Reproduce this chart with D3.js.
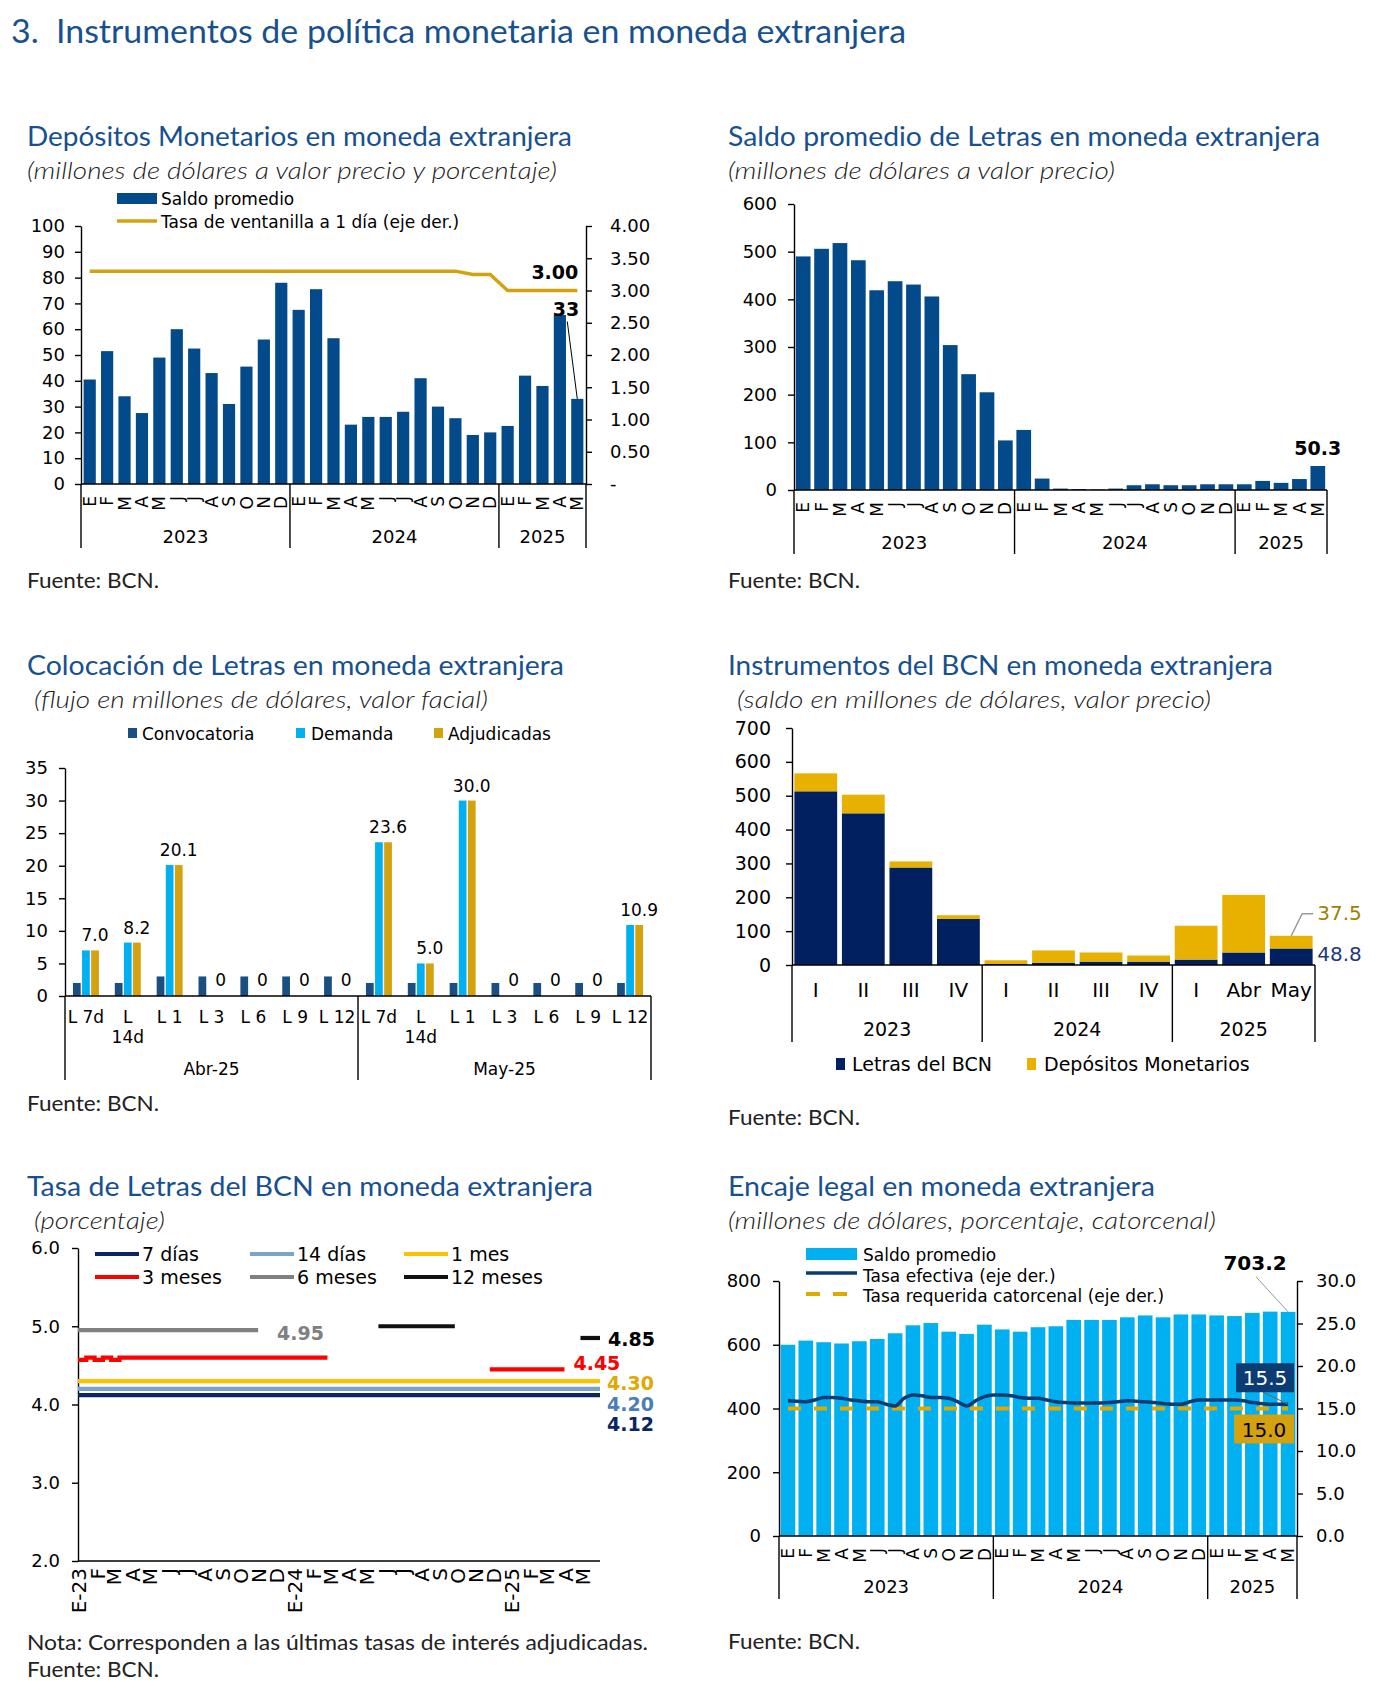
<!DOCTYPE html>
<html><head><meta charset="utf-8">
<script src="https://cdn.jsdelivr.net/npm/d3@7"></script>
<style>body{margin:0;background:#fff}svg{display:block}</style>
</head><body>
<script>
// ---------------- DATA ----------------
const meses = ["E","F","M","A","M","J","J","A","S","O","N","D","E","F","M","A","M","J","J","A","S","O","N","D","E","F","M","A","M"];
const anios = ["2023","2024","2025"];
const aniosMeses = [12,12,5];

// Depósitos Monetarios
const depSaldo = [40.5,51.5,34,27.5,49,60,52.5,43,31,45.5,56,78,67.5,75.5,56.5,23,26,26,28,41,30,25.5,19,20,22.5,42,38,65.5,33];
const depTasa = [3.3,3.3,3.3,3.3,3.3,3.3,3.3,3.3,3.3,3.3,3.3,3.3,3.3,3.3,3.3,3.3,3.3,3.3,3.3,3.3,3.3,3.3,3.25,3.25,3.0,3.0,3.0,3.0,3.0];
const depTicksIzq = [0,10,20,30,40,50,60,70,80,90,100];
const depTicksDer = [0,0.5,1,1.5,2,2.5,3,3.5,4];

// Saldo promedio de Letras
const letrasSaldo = [490,506,518,482,419,438,431,406,304,243,205,104,126,24,3,2,1,3,10,12,10,10,12,12,12,19,15,23,50.3];
const letrasTicks = [0,100,200,300,400,500,600];

// Colocación de Letras
const colCategorias = ["L 7d","L\n14d","L 1","L 3","L 6","L 9","L 12","L 7d","L\n14d","L 1","L 3","L 6","L 9","L 12"];
const colGrupos = ["Abr-25","May-25"];
const colGruposN = [7,7];
const colConvocatoria = [2,2,3,3,3,3,3,2,2,2,2,2,2,2];
const colDemanda = [7.0,8.2,20.1,0,0,0,0,23.6,5.0,30.0,0,0,0,10.9];
const colAdjudicadas = [7.0,8.2,20.1,0,0,0,0,23.6,5.0,30.0,0,0,0,10.9];
const colTicks = [0,5,10,15,20,25,30,35];

// Instrumentos del BCN
const instCategorias = ["I","II","III","IV","I","II","III","IV","I","Abr","May"];
const instAnios = ["2023","2024","2025"];
const instAniosN = [4,4,3];
const instLetras = [513,448,288,136,3,7,10,10,16,37,48.8];
const instDepositos = [53,55,18,11,11,36,27,18,100,170,37.5];
const instTicks = [0,100,200,300,400,500,600,700];

// Tasa de Letras
const tasaMeses = ["E-23","F","M","A","M","J","J","A","S","O","N","D","E-24","F","M","A","M","J","J","A","S","O","N","D","E-25","F","M","A","M"];
const tasaTicks = [2,3,4,5,6];
const tasa7d  = [[["2023-01-01",4.12],["2025-05-31",4.12]]];
const tasa14d = [[["2023-01-01",4.20],["2025-05-31",4.20]]];
const tasa1m  = [[["2023-01-01",4.30],["2025-05-31",4.30]]];
const tasa3m  = [[["2023-01-01",4.57],["2023-01-15",4.60],["2023-01-29",4.57],["2023-02-12",4.60],["2023-02-26",4.57],["2023-03-12",4.60],["2024-02-26",4.60]],
                 [["2024-11-26",4.45],["2025-04-01",4.45]]];
const tasa6m  = [[["2023-01-01",4.95],["2023-11-01",4.95]]];
const tasa12m = [[["2024-05-22",5.00],["2024-09-28",5.00]],[["2025-04-28",4.85],["2025-05-31",4.85]]];

// Encaje legal
const encajeSaldo = [600,613,608,604,611,618,636,661,668,641,634,663,648,641,655,658,678,678,678,686,692,686,695,695,692,690,700,704,703.2];
const encajeTasaEfectiva = [15.9,15.85,15.8,16.0,16.3,16.3,16.2,16.0,15.9,15.8,15.8,15.5,15.3,16.2,16.6,16.5,16.3,16.3,16.2,15.8,15.3,15.9,16.4,16.6,16.6,16.5,16.3,16.2,16.2,16.0,15.8,15.7,15.65,15.65,15.65,15.65,15.7,15.8,15.9,15.85,15.8,15.7,15.6,15.5,15.5,15.8,16.0,16.0,16.0,16.0,16.0,15.9,15.7,15.6,15.5,15.5,15.5];
const encajeTasaRequerida = [15.0,15.0];
const encajeTicksIzq = [0,200,400,600,800];
const encajeTicksDer = [0,5,10,15,20,25,30];

// ---------------- HELPERS ----------------
const FT = "Lato, 'Open Sans', sans-serif";
const FA = "'DejaVu Sans', Verdana, sans-serif";
const TBLUE = "#17508f";
const svg = d3.select("body").append("svg").attr("width",1378).attr("height",1695);

function T(g,x,y,s,o={}){
  const t=g.append("text").attr("x",x).attr("y",y).text(s)
    .attr("font-family",o.ff||FA).attr("font-size",o.fs||18).attr("fill",o.fill||"#000");
  if(o.anchor) t.attr("text-anchor",o.anchor);
  if(o.fw) t.attr("font-weight",o.fw);
  if(o.fst) t.attr("font-style",o.fst);
  if(o.w){const L=t.node().getComputedTextLength(); if(Math.abs(L-o.w)/o.w>0.01) t.attr("textLength",o.w).attr("lengthAdjust","spacingAndGlyphs");}
  return t;
}
function heading(g,x,y,title,tw,sx,sy,sub,sw){
  T(g,x,y,title,{ff:FT,fs:27,fill:TBLUE,w:tw});
  T(g,sx,sy,sub,{ff:FT,fs:23,fst:"italic",fw:300,fill:"#222",w:sw});
}
function styleAxis(a,fs){
  a.attr("font-family",FA).attr("font-size",fs||18);
  a.select(".domain").attr("stroke","#000").attr("stroke-width",1.4);
  a.selectAll(".tick line").attr("stroke","#000").attr("stroke-width",1.4);
  a.selectAll(".tick text").attr("fill","#000");
}
function leftAxis(g,y,x,ticks,fmt,o={}){
  const a=g.append("g").attr("transform",`translate(${x},0)`)
   .call(d3.axisLeft(y).tickValues(ticks).tickFormat(fmt).tickSize(6).tickSizeOuter(0).tickPadding(o.pad||10));
  styleAxis(a,o.fs); return a;
}
function rightAxis(g,y,x,ticks,fmt,o={}){
  const a=g.append("g").attr("transform",`translate(${x},0)`)
   .call(d3.axisRight(y).tickValues(ticks).tickFormat(fmt).tickSize(6).tickSizeOuter(0).tickPadding(o.pad||12));
  styleAxis(a,o.fs); a.selectAll(".tick text").attr("text-anchor","start"); return a;
}
function hline(g,x1,x2,y){g.append("line").attr("x1",x1).attr("x2",x2).attr("y1",y).attr("y2",y).attr("stroke","#000").attr("stroke-width",1.4);}
function vline(g,x,y1,y2,c,w){g.append("line").attr("x1",x).attr("x2",x).attr("y1",y1).attr("y2",y2).attr("stroke",c||"#000").attr("stroke-width",w||1.4);}

function groupedBottom(g,xs,labelsN,groupLabels,y0,sepBottom,groupY,fs){
  const [r0,r1]=xs.range(); let s=0; const b=[r0];
  groupLabels.forEach((lab,k)=>{
    const a0=xs(s); const a1=(s+labelsN[k]>=xs.domain().length)?r1:xs(s+labelsN[k]);
    T(g,(a0+a1)/2,groupY,lab,{anchor:"middle",fs:fs||18});
    b.push(a1); s+=labelsN[k];
  });
  b.forEach(x=>vline(g,x,y0,sepBottom));
}
function monthBottom(g,xs,y0,lblOff,yearY,sepBottom){
  hline(g,xs.range()[0],xs.range()[1],y0);
  g.append("g").selectAll("text").data(meses).join("text")
   .attr("transform",(d,i)=>`translate(${xs(i)+xs.bandwidth()/2},${y0+lblOff}) rotate(-90)`)
   .attr("text-anchor","end").attr("dy","0.36em").attr("font-family",FA).attr("font-size",17).text(d=>d);
  groupedBottom(g,xs,aniosMeses,anios,y0,sepBottom,yearY,18);
}

// ---------------- MAIN TITLE ----------------
T(svg,11,43,"3.\u00a0\u00a0Instrumentos de política monetaria en moneda extranjera",{ff:FT,fs:32,fill:TBLUE,w:895});

// ---------------- PANEL 1 ----------------
{
  const g=svg.append("g");
  heading(g,27,146,"Depósitos Monetarios en moneda extranjera",545,27,179,"(millones de dólares a valor precio y porcentaje)",530);
  const xs=d3.scaleBand().domain(d3.range(meses.length)).range([81,586]);
  const bw=xs.bandwidth();
  const y=d3.scaleLinear().domain([0,100]).range([484,226]);
  const y2=d3.scaleLinear().domain([0,4]).range([484,226]);
  g.append("g").selectAll("rect").data(depSaldo).join("rect")
    .attr("x",(d,i)=>xs(i)+bw*0.15).attr("width",bw*0.7)
    .attr("y",d=>y(d)).attr("height",d=>y(0)-y(d)).attr("fill","#034a8a");
  leftAxis(g,y,81,depTicksIzq,d=>d,{pad:10});
  rightAxis(g,y2,586,depTicksDer,d=>d===0?"-":d.toFixed(2),{pad:18});
  g.append("path").datum(depTasa)
    .attr("d",d3.line().x((d,i)=>xs(i)+bw/2).y(d=>y2(d)))
    .attr("fill","none").attr("stroke","#d4a20e").attr("stroke-width",3.5);
  monthBottom(g,xs,484,12,543,548);
  // legend
  g.append("rect").attr("x",117).attr("y",193).attr("width",40).attr("height",11).attr("fill","#034a8a");
  T(g,161,205,"Saldo promedio",{fs:17});
  g.append("line").attr("x1",117).attr("x2",157).attr("y1",221).attr("y2",221).attr("stroke","#d4a20e").attr("stroke-width",3.5);
  T(g,161,228,"Tasa de ventanilla a 1 día (eje der.)",{fs:17});
  // annotations
  const last=meses.length-1, cx=xs(last)+bw/2;
  T(g,cx+1,y2(depTasa[last])-12,depTasa[last].toFixed(2),{anchor:"end",fw:"bold",fs:19});
  const lb=y2(depTasa[last])+25;
  T(g,cx+2,lb,String(depSaldo[last]),{anchor:"end",fw:"bold",fs:19});
  g.append("line").attr("x1",cx-10).attr("y1",lb+6).attr("x2",cx).attr("y2",y(depSaldo[last])).attr("stroke","#000").attr("stroke-width",1);
  T(g,27,588,"Fuente: BCN.",{ff:FT,fs:21,fill:"#222",w:132});
}

// ---------------- PANEL 2 ----------------
{
  const g=svg.append("g");
  heading(g,728,146,"Saldo promedio de Letras en moneda extranjera",592,728,179,"(millones de dólares a valor precio)",387);
  const xs=d3.scaleBand().domain(d3.range(meses.length)).range([794,1327]);
  const bw=xs.bandwidth();
  const y=d3.scaleLinear().domain([0,600]).range([490,204]);
  g.append("g").selectAll("rect").data(letrasSaldo).join("rect")
    .attr("x",(d,i)=>xs(i)+bw*0.1).attr("width",bw*0.8)
    .attr("y",d=>y(d)).attr("height",d=>y(0)-y(d)).attr("fill","#034a8a");
  leftAxis(g,y,794,letrasTicks,d=>d,{pad:11});
  monthBottom(g,xs,490,12,549,554);
  const last=meses.length-1;
  T(g,xs(last)+bw/2,y(letrasSaldo[last])-11,letrasSaldo[last].toFixed(1),{anchor:"middle",fw:"bold",fs:19});
  T(g,728,588,"Fuente: BCN.",{ff:FT,fs:21,fill:"#222",w:132});
}

// ---------------- PANEL 3 ----------------
{
  const g=svg.append("g");
  heading(g,27,675,"Colocación de Letras en moneda extranjera",537,34,708,"(flujo en millones de dólares, valor facial)",454);
  const xs=d3.scaleBand().domain(d3.range(colCategorias.length)).range([65,651]);
  const bw=xs.bandwidth();
  const xin=d3.scaleBand().domain(["conv","dem","adj"]).range([0.19*bw,0.81*bw]).paddingInner(0.15);
  const y=d3.scaleLinear().domain([0,35]).range([996,768]);
  const series=[["conv",colConvocatoria,"#1b4f82"],["dem",colDemanda,"#00b0f0"],["adj",colAdjudicadas,"#d4a20e"]];
  series.forEach(([k,arr,c])=>{
    g.append("g").selectAll("rect").data(arr).join("rect")
      .attr("x",(d,i)=>xs(i)+xin(k)).attr("width",xin.bandwidth())
      .attr("y",d=>y(d)).attr("height",d=>y(0)-y(d)).attr("fill",c);
  });
  leftAxis(g,y,65,colTicks,d=>d,{pad:11});
  hline(g,65,651,996);
  g.append("g").selectAll("text").data(colAdjudicadas).join("text")
    .attr("x",(d,i)=>xs(i)+xin("adj")+xin.bandwidth()/2)
    .attr("y",d=>d>0?y(d)-9:y(0)-10)
    .attr("text-anchor","middle").attr("font-family",FA).attr("font-size",17)
    .text(d=>d>0?d.toFixed(1):"0");
  colCategorias.forEach((c,i)=>{
    const parts=c.split("\n");
    parts.forEach((p,j)=>T(g,xs(i)+bw/2,1023+j*20,p,{anchor:"middle",fs:17}));
  });
  groupedBottom(g,xs,colGruposN,colGrupos,996,1080,1075,17);
  [["Convocatoria","#1b4f82",128,142],["Demanda","#00b0f0",296,311],["Adjudicadas","#d4a20e",434,448]].forEach(([t,c,sx,tx])=>{
    g.append("rect").attr("x",sx).attr("y",728).attr("width",9).attr("height",10).attr("fill",c);
    T(g,tx,740,t,{fs:17});
  });
  T(g,27,1111,"Fuente: BCN.",{ff:FT,fs:21,fill:"#222",w:132});
}

// ---------------- PANEL 4 ----------------
{
  const g=svg.append("g");
  heading(g,728,675,"Instrumentos del BCN en moneda extranjera",545,737,708,"(saldo en millones de dólares, valor precio)",474);
  const tabla=instCategorias.map((c,i)=>({i,letras:instLetras[i],depositos:instDepositos[i]}));
  const stack=d3.stack().keys(["letras","depositos"])(tabla);
  const xs=d3.scaleBand().domain(d3.range(instCategorias.length)).range([792,1315]);
  const bw=xs.bandwidth();
  const y=d3.scaleLinear().domain([0,700]).range([965,728]);
  const col={letras:"#002060",depositos:"#e8b100"};
  stack.forEach(s=>{
    g.append("g").selectAll("rect").data(s).join("rect")
      .attr("x",d=>xs(d.data.i)+bw*0.05).attr("width",bw*0.9)
      .attr("y",d=>y(d[1])).attr("height",d=>y(d[0])-y(d[1])).attr("fill",col[s.key]);
  });
  leftAxis(g,y,792,instTicks,d=>d,{pad:15,fs:19});
  hline(g,792,1315,965);
  instCategorias.forEach((c,i)=>T(g,xs(i)+bw/2,997,c,{anchor:"middle",fs:20}));
  groupedBottom(g,xs,instAniosN,instAnios,965,1042,1036,19);
  const last=instCategorias.length-1, cx=xs(last)+bw/2;
  const top=y(instLetras[last]+instDepositos[last]);
  g.append("path").attr("d",`M${cx},${top}L${cx+11},${top-22}L${cx+22},${top-22}`).attr("fill","none").attr("stroke","#9a9a9a").attr("stroke-width",1.5);
  T(g,cx+26,top-16,instDepositos[last].toFixed(1),{fs:20,fill:"#a07f06"});
  T(g,cx+26,y(instLetras[last])+13,instLetras[last].toFixed(1),{fs:20,fill:"#1f3a7a"});
  g.append("rect").attr("x",836).attr("y",1058).attr("width",9).attr("height",12).attr("fill","#002060");
  T(g,852,1071,"Letras del BCN",{fs:19});
  g.append("rect").attr("x",1027).attr("y",1058).attr("width",9).attr("height",12).attr("fill","#e8b100");
  T(g,1044,1071,"Depósitos Monetarios",{fs:19});
  T(g,728,1125,"Fuente: BCN.",{ff:FT,fs:21,fill:"#222",w:132});
}

// ---------------- PANEL 5 ----------------
{
  const g=svg.append("g");
  heading(g,27,1196,"Tasa de Letras del BCN en moneda extranjera",566,34,1229,"(porcentaje)",131);
  const parse=d3.timeParse("%Y-%m-%d");
  const x=d3.scaleTime().domain([parse("2023-01-01"),parse("2025-05-31")]).range([78,600]);
  const y=d3.scaleLinear().domain([2,6]).range([1561,1248]);
  leftAxis(g,y,78,tasaTicks,d3.format(".1f"),{pad:12});
  hline(g,78,600,1561);
  const meses5=d3.timeMonth.range(parse("2023-01-01"),parse("2025-06-01"));
  g.append("g").selectAll("text").data(tasaMeses).join("text")
   .attr("transform",(d,i)=>`translate(${x(meses5[i])+1},${1568}) rotate(-90)`)
   .attr("text-anchor","end").attr("dy","0.36em").attr("font-family",FA).attr("font-size",20).text(d=>d);
  const line=d3.line().x(d=>x(parse(d[0]))).y(d=>y(d[1]));
  const lineStep=d3.line().x(d=>x(parse(d[0]))).y(d=>y(d[1])).curve(d3.curveStepAfter);
  const ser=[[tasa1m,"#ffc000",line],[tasa14d,"#7ca3cc",line],[tasa7d,"#0b2466",line],[tasa6m,"#808080",line],[tasa3m,"#ff0000",lineStep],[tasa12m,"#111111",line]];
  ser.forEach(([segs,c,ln])=>segs.forEach(s=>g.append("path").attr("d",ln(s)).attr("fill","none").attr("stroke",c).attr("stroke-width",4.2)));
  const leg=[["7 días","#0b2466",95,1254],["14 días","#7ca3cc",250,1254],["1 mes","#ffc000",404,1254],
             ["3 meses","#ff0000",95,1277],["6 meses","#808080",250,1277],["12 meses","#111111",404,1277]];
  leg.forEach(([t,c,lx,ly])=>{
    g.append("line").attr("x1",lx).attr("x2",lx+44).attr("y1",ly).attr("y2",ly).attr("stroke",c).attr("stroke-width",4.2);
    T(g,lx+47,ly+7,t,{fs:19});
  });
  const xe=x.range()[1];
  const e6=tasa6m[0][tasa6m[0].length-1];
  T(g,x(parse(e6[0]))+19,y(e6[1])+10,e6[1].toFixed(2),{fw:"bold",fs:19,fill:"#808080"});
  const e12=tasa12m[1][1];
  T(g,xe+8,y(e12[1])+8,e12[1].toFixed(2),{fw:"bold",fs:19,fill:"#000"});
  const e3=tasa3m[1][1];
  T(g,x(parse(e3[0]))+9,y(e3[1])+1,e3[1].toFixed(2),{fw:"bold",fs:19,fill:"#ff0000"});
  T(g,xe+7,y(tasa1m[0][1][1])+9,tasa1m[0][1][1].toFixed(2),{fw:"bold",fs:19,fill:"#e0a800"});
  T(g,xe+7,y(tasa14d[0][1][1])+22,tasa14d[0][1][1].toFixed(2),{fw:"bold",fs:19,fill:"#4a7ebb"});
  T(g,xe+7,y(tasa7d[0][1][1])+36,tasa7d[0][1][1].toFixed(2),{fw:"bold",fs:19,fill:"#0b2466"});
  T(g,27,1650,"Nota: Corresponden a las últimas tasas de interés adjudicadas.",{ff:FT,fs:21,fill:"#222",w:621});
  T(g,27,1677,"Fuente: BCN.",{ff:FT,fs:21,fill:"#222",w:132});
}

// ---------------- PANEL 6 ----------------
{
  const g=svg.append("g");
  heading(g,728,1196,"Encaje legal en moneda extranjera",427,728,1229,"(millones de dólares, porcentaje, catorcenal)",488);
  const xs=d3.scaleBand().domain(d3.range(meses.length)).range([779,1297]);
  const bw=xs.bandwidth();
  const y=d3.scaleLinear().domain([0,800]).range([1536,1281]);
  const y2=d3.scaleLinear().domain([0,30]).range([1536,1281]);
  g.append("g").selectAll("rect").data(encajeSaldo).join("rect")
    .attr("x",(d,i)=>xs(i)+bw*0.09).attr("width",bw*0.82)
    .attr("y",d=>y(d)).attr("height",d=>y(0)-y(d)).attr("fill","#00b0f0");
  leftAxis(g,y,779,encajeTicksIzq,d=>d,{pad:12});
  rightAxis(g,y2,1297,encajeTicksDer,d3.format(".1f"),{pad:13});
  const last=meses.length-1;
  const c0=xs(0)+bw/2, cN=xs(last)+bw/2;
  const xr=d3.scaleLinear().domain([0,encajeTasaRequerida.length-1]).range([c0,cN]);
  g.append("path").datum(encajeTasaRequerida).attr("d",d3.line().x((d,i)=>xr(i)).y(d=>y2(d)))
    .attr("fill","none").attr("stroke","#e0a800").attr("stroke-width",4).attr("stroke-dasharray","13,13");
  const xe=d3.scaleLinear().domain([0,encajeTasaEfectiva.length-1]).range([c0,cN]);
  g.append("path").datum(encajeTasaEfectiva).attr("d",d3.line().x((d,i)=>xe(i)).y(d=>y2(d)).curve(d3.curveMonotoneX))
    .attr("fill","none").attr("stroke","#0b3c74").attr("stroke-width",3.5);
  monthBottom(g,xs,1536,12,1593,1599);
  g.append("rect").attr("x",806).attr("y",1248).attr("width",51).attr("height",12).attr("fill","#00b0f0");
  T(g,863,1261,"Saldo promedio",{fs:17});
  g.append("line").attr("x1",806).attr("x2",857).attr("y1",1273).attr("y2",1273).attr("stroke","#0b3c74").attr("stroke-width",3.5);
  T(g,863,1282,"Tasa efectiva (eje der.)",{fs:17});
  g.append("line").attr("x1",806).attr("x2",848).attr("y1",1294).attr("y2",1294).attr("stroke","#e0a800").attr("stroke-width",4).attr("stroke-dasharray","14,13");
  T(g,863,1302,"Tasa requerida catorcenal (eje der.)",{fs:17});
  const vs=encajeSaldo[last];
  T(g,cN-33,y(vs)-42,vs.toFixed(1),{anchor:"middle",fw:"bold",fs:20});
  g.append("line").attr("x1",cN-32).attr("y1",y(vs)-35).attr("x2",cN).attr("y2",y(vs)).attr("stroke","#999").attr("stroke-width",1);
  const te=encajeTasaEfectiva[encajeTasaEfectiva.length-1];
  g.append("line").attr("x1",cN-25).attr("y1",y2(te)-12).attr("x2",cN).attr("y2",y2(te)).attr("stroke","#666").attr("stroke-width",1);
  g.append("rect").attr("x",cN-52).attr("y",y2(te)-41).attr("width",58).attr("height",29).attr("fill","#0b3c74");
  T(g,cN-23,y2(te)-19,te.toFixed(1),{anchor:"middle",fs:20,fill:"#fff"});
  const tr=encajeTasaRequerida[encajeTasaRequerida.length-1];
  g.append("rect").attr("x",cN-54).attr("y",y2(tr)+6).attr("width",60).attr("height",29).attr("fill","#d4a20e");
  T(g,cN-24,y2(tr)+28,tr.toFixed(1),{anchor:"middle",fs:20,fill:"#000"});
  T(g,728,1649,"Fuente: BCN.",{ff:FT,fs:21,fill:"#222",w:132});
}
</script>
</body></html>
